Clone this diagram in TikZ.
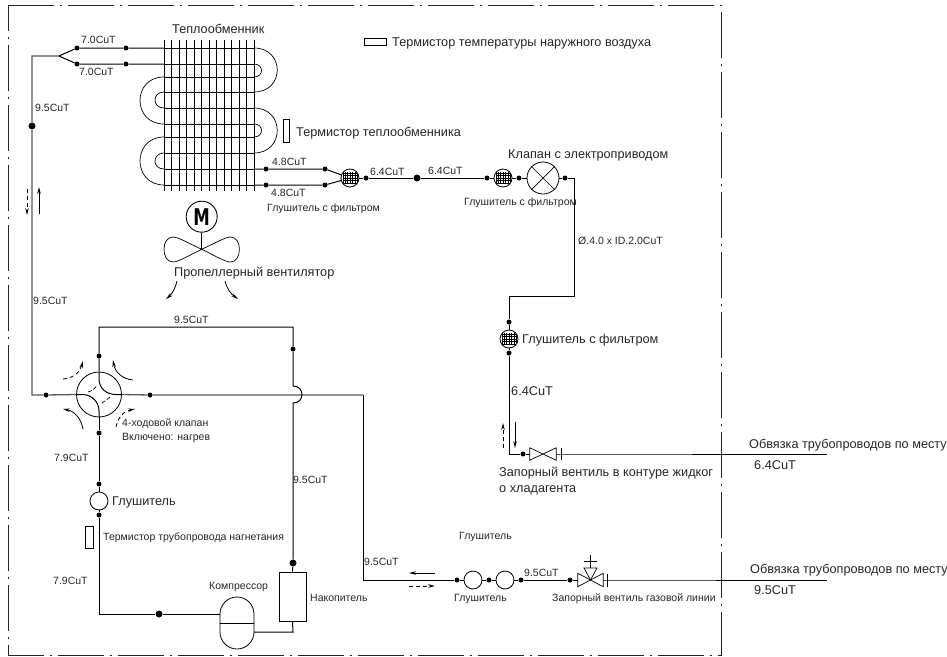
\documentclass[tikz,border=0pt]{standalone}
\usepackage{fontspec}
\setmainfont{Liberation Sans}
\newfontfamily\motorfont{DejaVu Sans}
\usetikzlibrary{arrows.meta}

\tikzset{
  x=1pt, y=-1pt,
  frameline/.style={line width=1pt, black!85, dash pattern=on 46pt off 6pt on 2pt off 6pt},
  pipe/.style={line width=1pt},
  mainpipe/.style={line width=1.3pt, black!65},
  dot/.style={circle, fill, inner sep=0pt, minimum size=5pt},
  bigdot/.style={circle, fill, inner sep=0pt, minimum size=7pt},
  muffler/.style={circle, draw, line width=.8pt, inner sep=0pt, minimum size=18pt},
  filterm/.style={muffler, path picture={\draw[line width=.3pt, step=2.4pt, shift={(path picture bounding box.center)}] (-7.2,-6) grid (7.2,6);}},
  cutoff/.style={inner sep=0pt, minimum width=26pt, minimum height=12pt},
  flow/.style={line width=.8pt, -{Stealth[length=7pt, width=3.5pt]}},
  flowd/.style={flow, dash pattern=on 4pt off 3pt},
  txs/.style={anchor=west, inner sep=0pt, text=black!85, font=\fontsize{10.5}{12}\selectfont},
  txm/.style={anchor=west, inner sep=0pt, text=black!85, font=\fontsize{12.7}{14}\selectfont},
}

\begin{document}
\begin{tikzpicture}
\useasboundingbox (0,0) rectangle (947,656);
% unit border
\coordinate (bA) at (8,5);
\coordinate (bB) at (721,5);
\coordinate (bC) at (721,655);
\coordinate (bD) at (8,655);
\draw[frameline] (bA) -- (bB) -- (bC) -- (bD) -- cycle;

% heat exchanger
\foreach \finx in {164,171.5,179,186.5,194,201.5,209,216.5,224,231.5,239,246.5,254}
  \draw[pipe] (\finx,40) -- (\finx,191);
\foreach \tuby in {48,64,77,92,108,124,137,153,169,185}
  \draw[pipe] (164,\tuby) -- (254,\tuby);
\draw[line width=.7pt] (254,48) .. controls (285,48) and (285,92) .. (254,92);
\draw[line width=.7pt] (254,64) .. controls (264,64) and (264,77) .. (254,77);
\draw[line width=.7pt] (254,108) .. controls (285,108) and (285,153) .. (254,153);
\draw[line width=.7pt] (254,124) .. controls (264,124) and (264,137) .. (254,137);
\draw[line width=.7pt] (164,77) .. controls (132,77) and (132,124) .. (164,124);
\draw[line width=.7pt] (164,92) .. controls (152,92) and (152,108) .. (164,108);
\draw[line width=.7pt] (164,137) .. controls (132,137) and (132,185) .. (164,185);
\draw[line width=.7pt] (164,153) .. controls (152,153) and (152,169) .. (164,169);

% coil inlet
\coordinate (cSplit) at (59,56);
\coordinate (cTopL) at (32,56);
\coordinate (cLeft) at (32,395);
\coordinate (tubA) at (164,48);
\coordinate (tubB) at (164,64);
\coordinate (tubC) at (254,169);
\coordinate (tubD) at (254,185);
\node[dot] (inA) at (77,48) {};
\node[dot] (inB) at (126,48) {};
\node[dot] (inC) at (77,64) {};
\node[dot] (inD) at (126,64) {};
\node[bigdot] (dLeft) at (32,126) {};
\draw[pipe] (cSplit) -- (inA) -- (inB) -- (tubA);
\draw[pipe] (cSplit) -- (inC) -- (inD) -- (tubB);

% coil outlet, electric valve
\node[dot] (outA) at (266,169) {};
\node[dot] (outB) at (325,169) {};
\node[dot] (outC) at (266,185) {};
\node[dot] (outD) at (325,185) {};
\node[filterm] (filA) at (350,178) {};
\node[dot] (dA) at (366,178) {};
\node[bigdot] (dB) at (417,178) {};
\node[dot] (dC) at (487,178) {};
\node[filterm] (filB) at (503,178) {};
\node[dot] (dD) at (519,178) {};
\node[circle, draw, line width=.8pt, inner sep=0pt, minimum size=32pt] (vEl) at (543,178) {};
\node[dot] (dE) at (565,178) {};
\draw[line width=.7pt] (vEl.north west) -- (vEl.south east);
\draw[line width=.7pt] (vEl.north east) -- (vEl.south west);
\draw[pipe] (tubC) -- (outA) -- (outB) -- (filA);
\draw[pipe] (tubD) -- (outC) -- (outD) -- (filA);
\draw[pipe] (filA) -- (dA) -- (dB) -- (dC) -- (filB) -- (dD) -- (vEl);

% liquid line
\coordinate (cR1) at (574,178);
\coordinate (cR2) at (574,296);
\coordinate (cR3) at (509,296);
\coordinate (cL1) at (509,454);
\coordinate (fL) at (561,454);
\coordinate (eL) at (827,454);
\node[dot] (lA) at (509,322) {};
\node[filterm] (filC) at (509,339) {};
\node[dot] (lB) at (509,353) {};
\node[dot] (lC) at (523,454) {};
\node[cutoff] (vL) at (543,454) {};
\draw[line width=.7pt] (vL.south west) -- (vL.north east) -- (vL.south east) -- (vL.north west) -- cycle;
\draw[pipe] (vEl) -- (dE) -- (cR1) -- (cR2) -- (cR3) -- (lA) -- (filC) -- (lB) -- (cL1) -- (lC) -- (vL.west);
\draw[pipe] (vL.east) -- (fL) -- (eL);
\draw[pipe] (561,448) -- (561,460);

% four way valve
\node[circle, draw, line width=.8pt, inner sep=0pt, minimum size=45pt] (vW) at (99,394.5) {};
\node[dot] (wA) at (46,395) {};
\node[dot] (wB) at (150,395) {};
\node[dot] (wC) at (99,356) {};
\node[dot] (wD) at (99,433) {};
\draw[pipe] (99,372) -- (99,379) .. controls (99,388) and (106,394.5) .. (116,394.5) -- (122,394.5);
\draw[pipe] (76,394.5) -- (82,394.5) .. controls (92,394.5) and (99,402) .. (99,411) -- (99,417);
\draw[line width=.7pt, dash pattern=on 4pt off 2pt] (88,392) .. controls (92,391) and (95,389) .. (97,385);
\draw[line width=.7pt, dash pattern=on 4pt off 2pt] (102,403) .. controls (105,401) and (108,399) .. (110,397);

% piping around four way valve
\coordinate (cT1) at (99,327);
\coordinate (cT2) at (293,327);
\coordinate (cT3) at (293,386);
\coordinate (cT4) at (293,403);
\coordinate (cH1) at (363,395);
\coordinate (cH2) at (363,580);
\node[dot] (rA) at (293,349) {};
\node[bigdot] (rB) at (293,563) {};
\draw[mainpipe] (vW.west) -- (wA) -- (cLeft) -- (dLeft) -- (cTopL) -- (cSplit);
\draw[mainpipe] (vW.east) -- (wB) -- (cH1);
\draw[pipe] (vW.north) -- (wC) -- (cT1) -- (cT2) -- (rA) -- (cT3) .. controls (305,386) and (305,403) .. (cT4) -- (rB);
\draw[pipe] (cH1) -- (cH2);

% discharge side
\coordinate (cD1) at (99,614);
\coordinate (cD2) at (220,614);
\coordinate (cD3) at (254,632);
\coordinate (cD4) at (293,632);
\node[muffler] (mufD) at (99,501) {};
\node[dot] (mA) at (99,484) {};
\node[dot] (mB) at (99,515) {};
\node[bigdot] (mC) at (159,614) {};
\node[draw, line width=.8pt, rounded corners=17pt, inner sep=0pt, minimum width=34pt, minimum height=52pt] (comp) at (237,623) {};
\node[draw, line width=.8pt, inner sep=0pt, minimum width=27pt, minimum height=49pt] (acc) at (292.5,596.5) {};
\node[draw, line width=.6pt, inner sep=0pt, minimum width=8pt, minimum height=22pt] (thD) at (89,537) {};
\draw[pipe] (comp.west) -- (comp.east);
\draw[pipe] (vW.south) -- (wD) -- (mA) -- (mufD) -- (mB) -- (cD1) -- (mC) -- (cD2);
\draw[pipe] (rB) -- (acc.north);
\draw[pipe] (cD3) -- (cD4) -- (acc.south);

% gas line
\coordinate (fG) at (607,580);
\coordinate (eG) at (827,580);
\node[dot] (gA) at (457,580) {};
\node[muffler] (mufE) at (473,580) {};
\node[dot] (gB) at (489,580) {};
\node[muffler] (mufF) at (505,580) {};
\node[dot] (gC) at (521,580) {};
\node[dot] (gD) at (570,580) {};
\node[cutoff, minimum width=25pt, minimum height=13pt] (vG) at (590.5,580) {};
\draw[line width=.7pt] (vG.south west) -- (vG.north east) -- (vG.south east) -- (vG.north west) -- cycle;
\draw[line width=.7pt] (vG.center) -- (584,568) -- (597,568) -- cycle;
\draw[pipe] (590.5,568) -- (590.5,555);
\draw[pipe] (584,561) -- (597,561);
\draw[pipe] (607,574) -- (607,587);
\draw[pipe] (cH2) -- (gA) -- (mufE) -- (gB) -- (mufF) -- (gC) -- (gD) -- (vG.west);
\draw[pipe] (vG.east) -- (fG) -- (eG);

% fan
\node[circle, draw, line width=.9pt, inner sep=0pt, minimum size=31pt] (motor) at (201.7,216.7) {\scalebox{.72}[1]{\fontsize{23}{23}\motorfont\bfseries M}};
\coordinate (hub) at (201.7,249.3);
\draw[pipe] (motor) -- (hub);
\draw[line width=.7pt] (hub) .. controls (188,243) and (178,237) .. (173,237) .. controls (167,237) and (164,243) .. (164,249.3) .. controls (164,256) and (167,262) .. (173,262) .. controls (178,262) and (188,256) .. (hub);
\draw[line width=.7pt] (hub) .. controls (215.4,243) and (225.4,237) .. (230.4,237) .. controls (236.4,237) and (239.4,243) .. (239.4,249.3) .. controls (239.4,256) and (236.4,262) .. (230.4,262) .. controls (225.4,262) and (215.4,256) .. (hub);

% thermistors
\node[draw, line width=.6pt, inner sep=0pt, minimum width=22pt, minimum height=7pt] (thO) at (375,41.5) {};
\node[draw, line width=.6pt, inner sep=0pt, minimum width=6pt, minimum height=23pt] (thC) at (286,130.5) {};

% flow arrows
\coordinate (fa1) at (39,214);
\coordinate (fa2) at (39,187);
\coordinate (fa3) at (27,189);
\coordinate (fa4) at (27,215);
\coordinate (fa5) at (515,422);
\coordinate (fa6) at (515,448);
\coordinate (fa7) at (503,448);
\coordinate (fa8) at (503,423);
\coordinate (fa9) at (435,573);
\coordinate (fa10) at (409,573);
\coordinate (fa11) at (409,586);
\coordinate (fa12) at (435,586);
\draw[flow] (fa1) -- (fa2);
\draw[flowd] (fa3) -- (fa4);
\draw[flow] (fa5) -- (fa6);
\draw[flowd] (fa7) -- (fa8);
\draw[flow] (fa9) -- (fa10);
\draw[flowd] (fa11) -- (fa12);

% curved arrows
\coordinate (ca1) at (63,379);
\coordinate (ca2) at (83,361);
\coordinate (ca3) at (133,380);
\coordinate (ca4) at (113,360);
\coordinate (ca5) at (83,429);
\coordinate (ca6) at (63,409);
\coordinate (ca7) at (116,427);
\coordinate (ca8) at (135,409);
\coordinate (ca9) at (177,281);
\coordinate (ca10) at (166,299);
\coordinate (ca11) at (225,281);
\coordinate (ca12) at (238,299);
\draw[flowd] (ca1) .. controls (74,378) and (80,372) .. (ca2);
\draw[flow] (ca3) .. controls (122,379) and (115,372) .. (ca4);
\draw[flow] (ca5) .. controls (81,418) and (74,411) .. (ca6);
\draw[flowd] (ca7) .. controls (118,417) and (124,411) .. (ca8);
\draw[flow] (ca9) .. controls (175,289) and (172,294) .. (ca10);
\draw[flow] (ca11) .. controls (227,289) and (231,294) .. (ca12);

% labels
\node[txm] (tHex) at (172,29) {Теплообменник};
\node[txs] (t70a) at (81,40) {7.0CuT};
\node[txs] (t70b) at (79,72) {7.0CuT};
\node[txs] (t95a) at (35,108) {9.5CuT};
\node[txs] (t95b) at (33,301) {9.5CuT};
\node[txm] (tOut) at (392,43) {Термистор температуры наружного воздуха};
\node[txm] (tCoil) at (296,133) {Термистор теплообменника};
\node[txs] (t48a) at (272,162) {4.8CuT};
\node[txs] (t48b) at (271,193) {4.8CuT};
\node[txs] (t64a) at (370,172) {6.4CuT};
\node[txs] (t64b) at (428,171) {6.4CuT};
\node[txs] (tFilA) at (267,209) {Глушитель с фильтром};
\node[txs] (tFilB) at (464,203) {Глушитель с фильтром};
\node[txm] (tVal) at (508,155) {Клапан с электроприводом};
\node[txs] (tCap) at (578,241) {Ø.4.0 x ID.2.0CuT};
\node[txm] (tFan) at (174,273) {Пропеллерный вентилятор};
\node[txm] (tFilC) at (522,340) {Глушитель с фильтром};
\node[txm] (t64c) at (511,391) {6.4CuT};
\node[txm] (tLiqA) at (499,473) {Запорный вентиль в контуре жидког};
\node[txm] (tLiqB) at (499,490) {о хладагента};
\node[txm] (tFldA) at (749,445) {Обвязка трубопроводов по месту};
\node[txm] (t64d) at (754,465) {6.4CuT};
\node[txm] (tFldB) at (750,570) {Обвязка трубопроводов по месту};
\node[txm] (t95c) at (754,590) {9.5CuT};
\node[txs] (t95d) at (174,320) {9.5CuT};
\node[txs] (tWayA) at (122,424) {4-ходовой клапан};
\node[txs] (tWayB) at (122,438) {Включено: нагрев};
\node[txs] (t79a) at (54,458) {7.9CuT};
\node[txm] (tMufD) at (112,502) {Глушитель};
\node[txs] (tThD) at (103,538) {Термистор трубопровода нагнетания};
\node[txs] (t79b) at (53,581) {7.9CuT};
\node[txs] (tComp) at (209,587) {Компрессор};
\node[txs] (tAcc) at (310,598) {Накопитель};
\node[txs] (t95e) at (293,480) {9.5CuT};
\node[txs] (t95f) at (364,562) {9.5CuT};
\node[txs] (tMufE) at (459,537) {Глушитель};
\node[txs] (tMufF) at (454,599) {Глушитель};
\node[txs] (t95g) at (524,573) {9.5CuT};
\node[txs] (tGas) at (552,599) {Запорный вентиль газовой линии};
\end{tikzpicture}
\end{document}
